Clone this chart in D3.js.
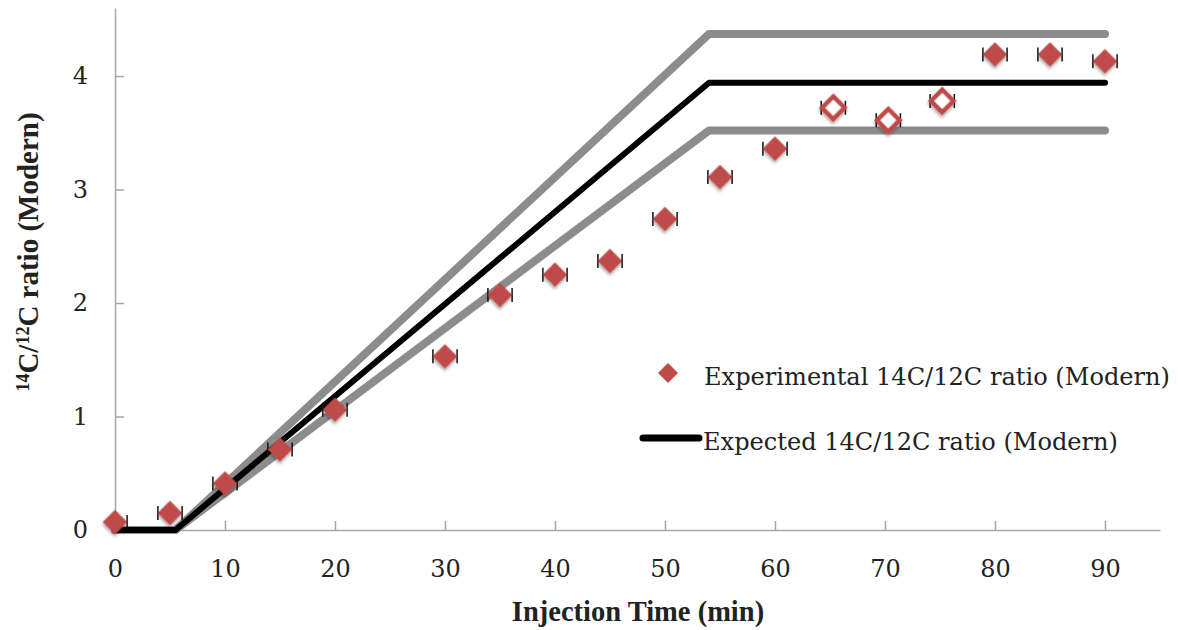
<!DOCTYPE html>
<html>
<head>
<meta charset="utf-8">
<script src="https://cdn.jsdelivr.net/npm/d3@7"></script>
<style>
  html, body { margin: 0; padding: 0; background: #fff; }
  svg { display: block; }
</style>
</head>
<body>
<svg id="chart" width="1178" height="630"></svg>
<script>
// Measured 14C/12C ratio at each injection time (min)
const timesFilled = [0, 5, 10, 15, 20, 30, 35, 40, 45, 50, 55, 60, 80, 85, 90];
const ratiosFilled = [0.07, 0.15, 0.41, 0.71, 1.06, 1.53, 2.07, 2.25, 2.37, 2.74, 3.11, 3.36, 4.19, 4.19, 4.13];
const timesOpen = [65.3, 70.3, 75.2];
const ratiosOpen = [3.72, 3.61, 3.78];
const timeError = 1.1; // ± min

// Expected ratio with upper and lower bounds
const expectedTimes = [0, 5.5, 54, 90];
const expectedRatio = [0, 0, 3.94, 3.94];
const upperRatio = [0, 0, 4.37, 4.37];
const lowerRatio = [0, 0, 3.52, 3.52];

const xTicks = [0, 10, 20, 30, 40, 50, 60, 70, 80, 90];
const yTicks = [0, 1, 2, 3, 4];

const svg = d3.select("#chart");
const x = d3.scaleLinear().domain([0, 95]).range([115, 1160]);
const y = d3.scaleLinear().domain([0, 4.6]).range([530, 530 - 4.6 * 113.5]);

const red = "#BE4B48";
const gray = "#8C8C8C";
const axisColor = "#A6A6A6";
const tickFont = "'DejaVu Serif', serif";
const titleFont = "'Liberation Serif', 'Times New Roman', Times, serif";

const defs = svg.append("defs");
const shadow = defs.append("filter").attr("id", "shadow")
  .attr("x", "-50%").attr("y", "-50%").attr("width", "200%").attr("height", "200%");
shadow.append("feDropShadow").attr("dx", 1.5).attr("dy", 2).attr("stdDeviation", 1.5)
  .attr("flood-color", "#000").attr("flood-opacity", 0.35);
defs.append("clipPath").attr("id", "plotClip")
  .append("rect").attr("x", x(0)).attr("y", 0).attr("width", 1178).attr("height", 630);

// Axes
const xAxis = d3.axisBottom(x).tickValues(xTicks).tickFormat(d3.format("d"))
  .tickSizeInner(-9).tickSizeOuter(0).tickPadding(30);
const yAxis = d3.axisLeft(y).tickValues(yTicks).tickFormat(d3.format("d"))
  .tickSizeInner(-9).tickSizeOuter(0).tickPadding(27);

const gx = svg.append("g").attr("transform", `translate(0,${y(0)})`).call(xAxis);
const gy = svg.append("g").attr("transform", `translate(${x(0)},0)`).call(yAxis);
[gx, gy].forEach(g => {
  g.select(".domain").attr("stroke", axisColor).attr("stroke-width", 1.5);
  g.selectAll(".tick line").attr("stroke", axisColor).attr("stroke-width", 1.5);
  g.selectAll(".tick text").attr("fill", "#222").attr("font-family", tickFont).attr("font-size", 24);
});
gx.selectAll(".tick line").attr("y1", 0);
gy.selectAll(".tick").filter(d => d === 0).select("line").remove();

// Expected line and bounds
const line = d3.line().x(d => x(d[0])).y(d => y(d[1]));
const pts = arr => expectedTimes.map((t, i) => [t, arr[i]]);
svg.append("path").datum(pts(upperRatio)).attr("d", line)
  .attr("fill", "none").attr("stroke", gray).attr("stroke-width", 8)
  .attr("stroke-linecap", "round").attr("stroke-linejoin", "round");
svg.append("path").datum(pts(lowerRatio)).attr("d", line)
  .attr("fill", "none").attr("stroke", gray).attr("stroke-width", 8)
  .attr("stroke-linecap", "round").attr("stroke-linejoin", "round");
svg.append("path").datum(pts(expectedRatio)).attr("d", line)
  .attr("fill", "none").attr("stroke", "#000").attr("stroke-width", 6)
  .attr("stroke-linecap", "round").attr("stroke-linejoin", "round");

// Error bars
const allPts = timesFilled.map((t, i) => [t, ratiosFilled[i]])
  .concat(timesOpen.map((t, i) => [t, ratiosOpen[i]]));
const eb = svg.append("g").attr("clip-path", "url(#plotClip)")
  .attr("stroke", "#111").attr("stroke-width", 1.5);
allPts.forEach(([t, r]) => {
  const cy = y(r);
  eb.append("line").attr("x1", x(t - timeError)).attr("x2", x(t + timeError)).attr("y1", cy).attr("y2", cy);
  eb.append("line").attr("x1", x(t - timeError)).attr("x2", x(t - timeError)).attr("y1", cy - 7).attr("y2", cy + 7);
  eb.append("line").attr("x1", x(t + timeError)).attr("x2", x(t + timeError)).attr("y1", cy - 7).attr("y2", cy + 7);
});

// Diamonds
const diamond = d3.symbol().type(d3.symbolSquare);
svg.append("g").selectAll("path").data(timesFilled.map((t, i) => [t, ratiosFilled[i]]))
  .join("path")
  .attr("d", diamond.size(300)())
  .attr("transform", d => `translate(${x(d[0])},${y(d[1])}) rotate(45)`)
  .attr("fill", red).attr("filter", "url(#shadow)");
svg.append("g").selectAll("path").data(timesOpen.map((t, i) => [t, ratiosOpen[i]]))
  .join("path")
  .attr("d", diamond.size(250)())
  .attr("transform", d => `translate(${x(d[0])},${y(d[1])}) rotate(45)`)
  .attr("fill", "#fff").attr("stroke", red).attr("stroke-width", 4.5).attr("filter", "url(#shadow)");

// Legend
const legendFont = "'DejaVu Serif', serif";
svg.append("path").attr("d", d3.symbol().type(d3.symbolSquare).size(200)())
  .attr("transform", "translate(668,373) rotate(45)").attr("fill", red);
svg.append("text").attr("x", 704).attr("y", 385)
  .attr("font-family", legendFont).attr("font-size", 24.5).attr("fill", "#222")
  .attr("textLength", 466).attr("lengthAdjust", "spacingAndGlyphs")
  .text("Experimental 14C/12C ratio (Modern)");
svg.append("line").attr("x1", 643).attr("x2", 699).attr("y1", 438).attr("y2", 438)
  .attr("stroke", "#000").attr("stroke-width", 7).attr("stroke-linecap", "round");
svg.append("text").attr("x", 703).attr("y", 450)
  .attr("font-family", legendFont).attr("font-size", 24.5).attr("fill", "#222")
  .attr("textLength", 415).attr("lengthAdjust", "spacingAndGlyphs")
  .text("Expected 14C/12C ratio (Modern)");

// Axis titles
svg.append("text").attr("x", 638).attr("y", 621).attr("text-anchor", "middle")
  .attr("font-family", titleFont).attr("font-weight", "bold").attr("font-size", 28.5)
  .attr("fill", "#222").text("Injection Time (min)");

const yt = svg.append("text").attr("transform", "translate(38,252) rotate(-90)")
  .attr("text-anchor", "middle")
  .attr("font-family", titleFont).attr("font-weight", "bold").attr("font-size", 29)
  .attr("fill", "#222");
yt.append("tspan").attr("font-size", 18).attr("dy", -9).text("14");
yt.append("tspan").attr("dy", 9).text("C/");
yt.append("tspan").attr("font-size", 18).attr("dy", -9).text("12");
yt.append("tspan").attr("dy", 9).text("C ratio (Modern)");
</script>
</body>
</html>
